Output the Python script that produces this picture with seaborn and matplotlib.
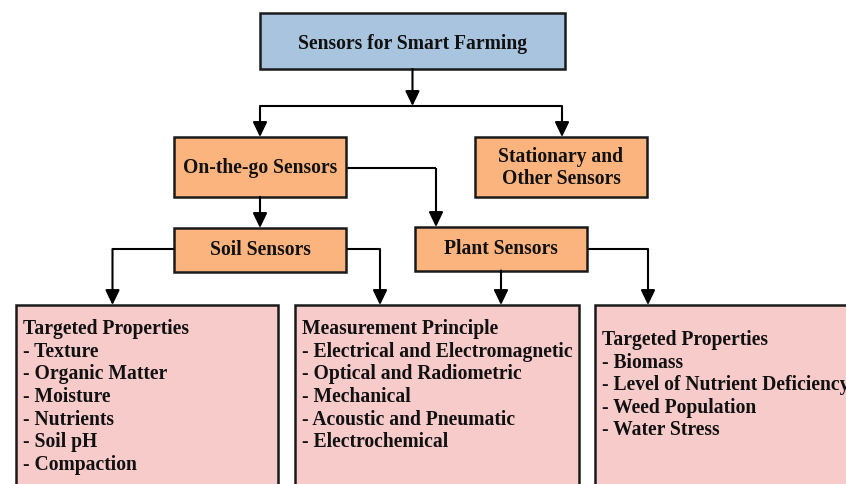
import matplotlib
matplotlib.use("Agg")
import matplotlib.pyplot as plt
from matplotlib.patches import Rectangle
import seaborn as sns

# ---- content ----
root_label = "Sensors for Smart Farming"
level1_labels = ["On-the-go Sensors", "Stationary and\nOther Sensors"]
level2_labels = ["Soil Sensors", "Plant Sensors"]
soil_title = "Targeted Properties"
soil_items = ["Texture", "Organic Matter", "Moisture", "Nutrients", "Soil pH", "Compaction"]
principle_title = "Measurement Principle"
principle_items = ["Electrical and Electromagnetic", "Optical and Radiometric",
                   "Mechanical", "Acoustic and Pneumatic", "Electrochemical"]
plant_title = "Targeted Properties"
plant_items = ["Biomass", "Level of Nutrient Deficiency", "Weed Population", "Water Stress"]

# ---- style ----
sns.set_theme(style="white")
plt.rcParams["font.family"] = ["Liberation Serif", "DejaVu Serif"]
plt.rcParams["font.weight"] = "bold"

BLUE = "#a9c4de"
ORANGE = "#fcb47f"
PINK = "#f8cbcb"
EDGE = "#1a1a1a"
TXT = "#111111"
FS = 14.1

fig = plt.figure(figsize=(8.46, 4.84), dpi=100)
ax = fig.add_axes([0, 0, 1, 1])
ax.set_xlim(0, 846)
ax.set_ylim(484, 0)
ax.axis("off")


def box(x0, y0, x1, y1, color):
    ax.add_patch(Rectangle((x0, y0), x1 - x0, y1 - y0, facecolor=color,
                           edgecolor=EDGE, lw=1.8, zorder=2, clip_on=False))


def line(xs, ys):
    ax.plot(xs, ys, color="black", lw=1.5, zorder=1, solid_capstyle="butt")


def arrow(x, y0, y1):
    ax.annotate("", xy=(x, y1), xytext=(x, y0),
                arrowprops=dict(arrowstyle="-|>,head_length=0.75,head_width=0.36",
                                color="black", lw=1.5, shrinkA=0, shrinkB=0),
                zorder=3)


def ctext(x, y, s):
    ax.text(x, y, s, ha="center", va="baseline", fontsize=FS, fontweight="bold",
            color=TXT, zorder=4)


# root
box(260, 13, 565, 69, BLUE)
ctext(412.5, 49.3, root_label)
arrow(412.5, 69, 106)
line([260, 562], [106, 106])
arrow(260, 106, 137)
arrow(562, 106, 137)

# level 1
box(174, 137, 346, 197, ORANGE)
ctext(260, 173.3, level1_labels[0])
box(475, 137, 647, 197, ORANGE)
for k, part in enumerate(level1_labels[1].split("\n")):
    ctext(561, 161.7 + k * 22.4, part)

# on-the-go -> soil / plant
arrow(260, 197, 228)
line([346, 436], [167.5, 167.5])
line([436, 436], [167.5, 200])
arrow(436, 199, 227)

# level 2
box(174, 228, 346, 271.5, ORANGE)
ctext(260, 255, level2_labels[0])
box(415, 227, 587, 270.5, ORANGE)
ctext(501, 254.3, level2_labels[1])

# connections to bottom boxes
line([174, 112.5], [249, 249])
arrow(112.5, 249, 305)
line([346, 380], [249, 249])
arrow(380, 249, 305)
arrow(501, 270.5, 305)
line([587, 648], [249, 249])
arrow(648, 249, 305)

# bottom boxes
box(16, 305, 278, 500, PINK)
box(295, 305, 579, 500, PINK)
box(595, 305, 870, 500, PINK)

LS = 22.6


def listing(x, y, title, items):
    ax.text(x, y, title, ha="left", va="baseline", fontsize=FS, fontweight="bold",
            color=TXT, zorder=4)
    for i, it in enumerate(items):
        ax.text(x, y + (i + 1) * LS, "- " + it, ha="left", va="baseline",
                fontsize=FS, fontweight="bold", color=TXT, zorder=4,
                clip_on=False)


listing(23, 334.3, soil_title, soil_items)
listing(302.5, 334.3, principle_title, principle_items)
listing(601.5, 345, plant_title, plant_items)

fig.savefig("out.png", dpi=100, facecolor="white")
